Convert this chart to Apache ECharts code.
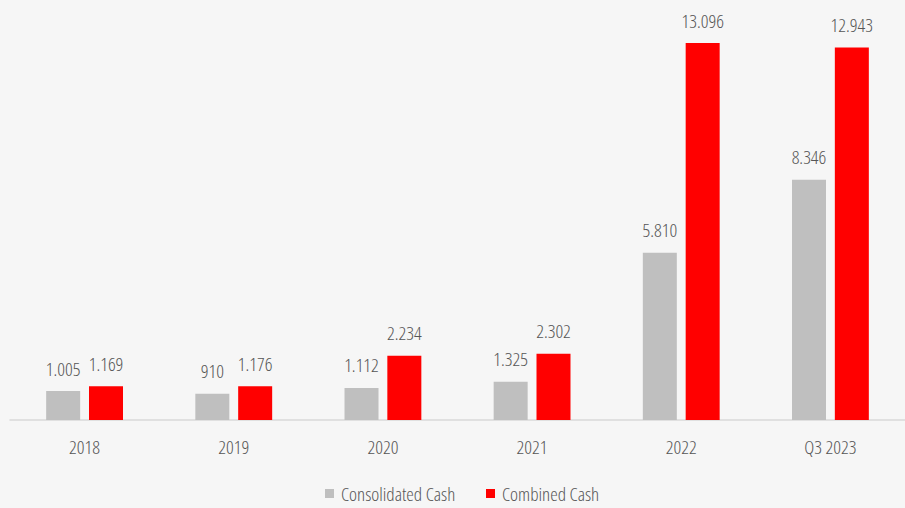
<!DOCTYPE html>
<html>
<head>
<meta charset="utf-8">
<script src="https://cdn.jsdelivr.net/npm/echarts@6/dist/echarts.min.js"></script>
<style>
  html, body { margin: 0; padding: 0; background: #f6f6f6; }
  #chart { width: 905px; height: 508px; }
  /* narrow look of the original font: condensed face of Open Sans */
  #chart text { font-stretch: condensed !important; }
</style>
</head>
<body>
<div id="chart"></div>
<script>
const categories = ['2018', '2019', '2020', '2021', '2022', 'Q3 2023']
const consolidatedCash = [1005, 910, 1112, 1325, 5810, 8346]
const combinedCash = [1169, 1176, 2234, 2302, 13096, 12943]

const fontFamily = "'Open Sans'"
const fontWeight = 300
const textColor = '#555555'
const fontSize = 19

// european style thousands separator: 13.096
function fmt(v) {
  return String(v).replace(/\B(?=(\d{3})+(?!\d))/g, '.')
}

const chart = echarts.init(document.getElementById('chart'), null, { renderer: 'svg' })

const legendBase = {
  bottom: 0,
  itemWidth: 9,
  itemHeight: 9,
  icon: 'rect',
  textStyle: { color: textColor, fontSize: fontSize, fontFamily: fontFamily, fontWeight: fontWeight, padding: [0, 0, 0, 2] }
}

const labelStyle = {
  show: true,
  position: 'top',
  distance: 13,
  color: textColor,
  fontSize: fontSize,
  fontFamily: fontFamily,
  fontWeight: fontWeight,
  formatter: p => fmt(p.value)
}

chart.setOption({
  backgroundColor: '#f6f6f6',
  animation: false,
  textStyle: { fontFamily: fontFamily },
  // one legend per item, so the gap doesn't depend on measured text width
  legend: [
    Object.assign({ data: ['Consolidated Cash'], left: 320 }, legendBase),
    Object.assign({ data: ['Combined Cash'], left: 481 }, legendBase)
  ],
  grid: {
    top: 17,
    left: 10,
    right: -5,
    bottom: 88
  },
  xAxis: {
    type: 'category',
    data: categories,
    axisLine: { lineStyle: { color: '#d9d9d9', width: 1.5 } },
    axisTick: { show: false },
    axisLabel: { color: textColor, fontSize: fontSize, fontWeight: fontWeight, margin: 17, fontFamily: fontFamily }
  },
  yAxis: {
    type: 'value',
    min: 0,
    max: 14000,
    show: false,
    splitLine: { show: false }
  },
  series: [{
    name: 'Consolidated Cash',
    type: 'bar',
    data: consolidatedCash,
    barWidth: 34,
    barGap: '26%',
    itemStyle: { color: '#bfbfbf' },
    label: labelStyle
  }, {
    name: 'Combined Cash',
    type: 'bar',
    data: combinedCash,
    barWidth: 34,
    itemStyle: { color: '#ff0000' },
    label: labelStyle
  }]
})
</script>
</body>
</html>
